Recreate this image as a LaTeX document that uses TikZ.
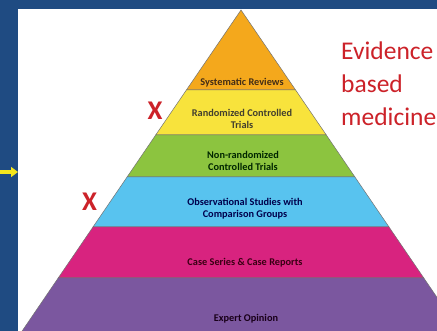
\documentclass[tikz,border=0pt]{standalone}
\usepackage{fontspec}
\setmainfont{Carlito}
\usetikzlibrary{arrows.meta}

\definecolor{frameblue}{HTML}{1F4B82}
\definecolor{sysorange}{HTML}{F4A81C}
\definecolor{rctyellow}{HTML}{F8E33C}
\definecolor{nonrctgreen}{HTML}{8CC43F}
\definecolor{obsblue}{HTML}{58C3EF}
\definecolor{casemagenta}{HTML}{D8237F}
\definecolor{expertpurple}{HTML}{7B579F}
\definecolor{crossred}{HTML}{CC2229}
\definecolor{arrowyellow}{HTML}{F5E61C}

\begin{document}
\begin{tikzpicture}[x=1pt, y=-1pt,
  layer/.style={draw=black!55, line width=0.5pt},
  lvltext/.style={font=\bfseries\fontsize{10.3}{12}\selectfont, align=center, inner sep=0pt},
  ebm/.style={font=\fontsize{25.5}{30}\selectfont, text=crossred, anchor=base west, inner sep=0pt},
  cross/.style={font=\bfseries\fontsize{27}{30}\selectfont, text=crossred, inner sep=0pt}]
  \useasboundingbox (0,0) rectangle (437,331);
  \clip (0,0) rectangle (437,331);
  \filldraw[fill=frameblue, draw=none] (0,0) rectangle (437,331);
  \filldraw[fill=white, draw=none] (18,9) rectangle (437,331);
  \filldraw[fill=sysorange, layer] (241,10) -- (295.6,90) -- (186.4,90) -- cycle;
  \filldraw[fill=rctyellow, layer] (186.4,90) -- (295.6,90) -- (326.3,135) -- (155.7,135) -- cycle;
  \filldraw[fill=nonrctgreen, layer] (155.7,135) -- (326.3,135) -- (354.9,177) -- (127.1,177) -- cycle;
  \filldraw[fill=obsblue, layer] (127.1,177) -- (354.9,177) -- (389,227) -- (93,227) -- cycle;
  \filldraw[fill=casemagenta, layer] (93,227) -- (389,227) -- (423.8,278) -- (58.2,278) -- cycle;
  \filldraw[fill=expertpurple, layer] (58.2,278) -- (423.8,278) -- (466,340) -- (16,340) -- cycle;
  \node[lvltext, text=brown!35!black] (sysrev) at (242,83) {Systematic Reviews};
  \node[lvltext, text=olive!30!black] (rct) at (242,119) {Randomized Controlled\\Trials};
  \node[lvltext, text=green!15!black] (nonrct) at (243,161) {Non-randomized\\Controlled Trials};
  \node[lvltext, text=blue!30!black] (obs) at (245,209) {Observational Studies with\\Comparison Groups};
  \node[lvltext, text=purple!30!black] (caseser) at (245,263) {Case Series \& Case Reports};
  \node[lvltext, text=violet!20!black] (expert) at (246,319) {Expert Opinion};
  \node[cross] (rctx) at (155,111) {X};
  \node[cross] (obsx) at (89.5,202) {X};
  \node[ebm] (evidence) at (341,60) {Evidence};
  \node[ebm] (based) at (341,93) {based};
  \node[ebm] (medicine) at (341,126) {medicine};
  \coordinate (arrowtail) at (0,172);
  \coordinate (arrowtip) at (18,172);
  \draw[arrowyellow, line width=4pt, -{Triangle[length=7pt, width=10pt]}] (arrowtail) -- (arrowtip);
\end{tikzpicture}
\end{document}
